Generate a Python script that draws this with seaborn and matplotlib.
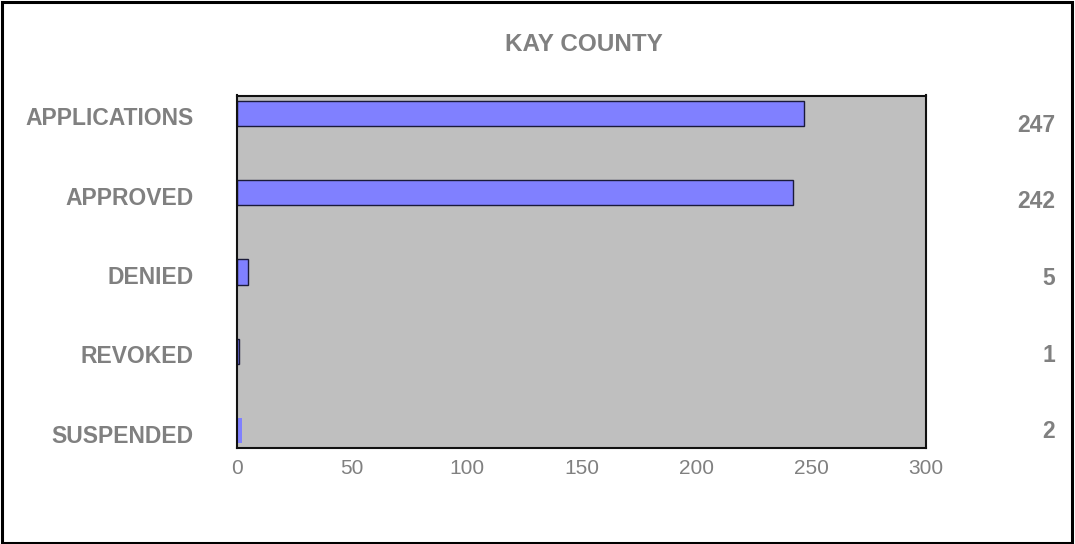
import matplotlib
matplotlib.use("Agg")
import matplotlib.pyplot as plt
import matplotlib.transforms as mtransforms
from matplotlib.patches import Rectangle
import seaborn as sns
import pandas as pd

title = "KAY COUNTY"
categories = ["APPLICATIONS", "APPROVED", "DENIED", "REVOKED", "SUSPENDED"]
values = [247, 242, 5, 1, 2]
xticks = [0, 50, 100, 150, 200, 250, 300]

sns.set_theme(style="white")
plt.rcParams["font.family"] = ["Liberation Sans", "DejaVu Sans"]

TXT = "#808080"
W, H, DPI = 1075, 544, 100
fig = plt.figure(figsize=(W / DPI, H / DPI), dpi=DPI)
fig.patch.set_facecolor("white")

ax = fig.add_axes([237 / W, 1 - 448 / H, (926 - 237) / W, (448 - 95.5) / H])
df = pd.DataFrame({"category": categories, "value": values})
sns.barplot(data=df, x="value", y="category", orient="h", color="#8080FF",
            saturation=1, width=0.32, edgecolor="#1a1a3a", linewidth=1.0, ax=ax)
ax.patches[-1].set_edgecolor("none")

ax.set_facecolor("#BFBFBF")
ax.set_xlim(0, 300)
ax.set_ylim(4.22, -0.225)
ax.set_xlabel("")
ax.set_ylabel("")
for s in ax.spines.values():
    s.set_visible(True)
    s.set_color("#111111")
    s.set_linewidth(1.5)

ax.set_xticks(xticks)
ax.set_xticklabels([str(t) for t in xticks], fontsize=15, color=TXT)
ax.tick_params(axis="x", length=0, pad=8)
ax.set_yticks(range(len(categories)))
ax.set_yticklabels(categories, fontsize=16.5, fontweight="bold", color=TXT)
ax.tick_params(axis="y", length=0, pad=31)
off = mtransforms.ScaledTranslation(0, -3 / DPI, fig.dpi_scale_trans)
for lab in ax.get_yticklabels():
    lab.set_transform(lab.get_transform() + off)

unit_px = 79.3
trans = mtransforms.blended_transform_factory(fig.transFigure, ax.transData)
for i, v in enumerate(values):
    ax.text(1055 / W, i + (12 - 2.7 * i) / unit_px, str(v), transform=trans,
            ha="right", va="center", fontsize=16.5, fontweight="bold",
            color=TXT, clip_on=False)

fig.text(583.5 / W, 1 - 44.5 / H, title, ha="center", va="center",
         fontsize=17.5, fontweight="bold", color=TXT)

fig.patches.append(Rectangle((1.5 / W, 1.5 / H), (1072 - 1.5) / W, (542 - 1.5) / H,
                             transform=fig.transFigure, fill=False,
                             edgecolor="black", linewidth=2.2))

fig.savefig("out.png", dpi=DPI)
